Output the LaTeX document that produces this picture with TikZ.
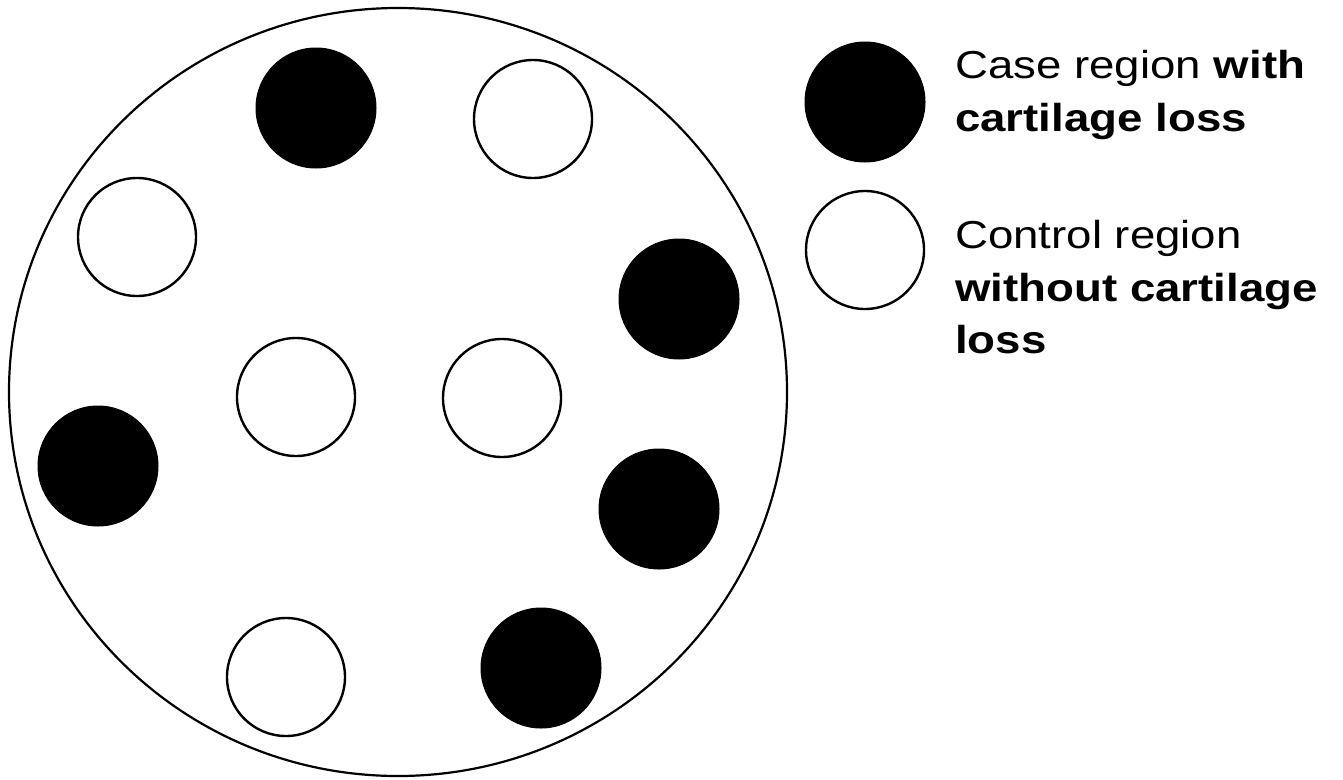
\documentclass[tikz,border=0pt]{standalone}
\usepackage{fontspec}
\setmainfont{Liberation Sans}
\begin{document}
\begin{tikzpicture}[x=1pt,y=1pt,
  outline/.style={draw=black,line width=2.2pt},
  casereg/.style={circle,fill=black,draw=black,line width=1pt,minimum size=120pt,inner sep=0pt},
  ctrlreg/.style={circle,fill=white,draw=black,line width=2.4pt,minimum size=118pt,inner sep=0pt},
  legtext/.style={anchor=base west,inner sep=0pt,font=\fontsize{39}{46}\selectfont}]
\useasboundingbox (0,0) rectangle (1343,-779);
% big circle
\draw[outline] (398,-392) ellipse [x radius=389, y radius=384];
% case regions
\node[casereg] (c1) at (316,-108) {};
\node[casereg] (c2) at (679,-299) {};
\node[casereg] (c3) at (98,-466) {};
\node[casereg] (c4) at (659,-509) {};
\node[casereg] (c5) at (541,-668) {};
% control regions
\node[ctrlreg] (w1) at (533,-119) {};
\node[ctrlreg] (w2) at (137,-237) {};
\node[ctrlreg] (w3) at (296,-397) {};
\node[ctrlreg] (w4) at (502,-398) {};
\node[ctrlreg] (w5) at (286,-677) {};
% legend
\node[casereg] (lc) at (865,-102) {};
\node[ctrlreg] (lw) at (865,-250) {};
\node[legtext] (t1) at (955,-78) {\scalebox{1.17}[1]{Case region \textbf{with}}};
\node[legtext] (t2) at (955,-131) {\scalebox{1.17}[1]{\textbf{cartilage loss}}};
\node[legtext] (t3) at (955,-248) {\scalebox{1.17}[1]{Control region}};
\node[legtext] (t4) at (955,-301) {\scalebox{1.17}[1]{\textbf{without cartilage}}};
\node[legtext] (t5) at (955,-353) {\scalebox{1.17}[1]{\textbf{loss}}};
\end{tikzpicture}
\end{document}
